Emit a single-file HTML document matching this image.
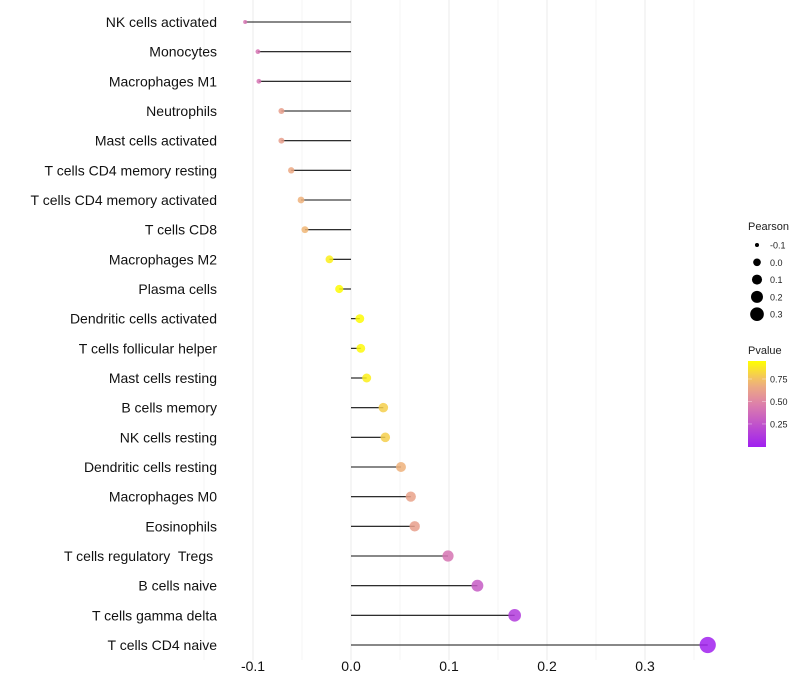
<!DOCTYPE html>
<html><head><meta charset="utf-8"><style>
body{margin:0;background:#fff;font-family:"Liberation Sans",sans-serif}
text{white-space:pre}
</style></head><body>
<svg id="c" width="800" height="700" style="display:block"></svg>
<script>
const categories=["NK cells activated","Monocytes","Macrophages M1","Neutrophils","Mast cells activated","T cells CD4 memory resting","T cells CD4 memory activated","T cells CD8","Macrophages M2","Plasma cells","Dendritic cells activated","T cells follicular helper","Mast cells resting","B cells memory","NK cells resting","Dendritic cells resting","Macrophages M0","Eosinophils","T cells regulatory  Tregs ","B cells naive","T cells gamma delta","T cells CD4 naive"];
const pearson=[-0.108,-0.095,-0.094,-0.071,-0.071,-0.061,-0.051,-0.047,-0.022,-0.012,0.009,0.010,0.016,0.033,0.035,0.051,0.061,0.065,0.099,0.129,0.167,0.364];
const pvalue=[0.42,0.42,0.42,0.62,0.62,0.66,0.7,0.72,0.9,0.94,0.94,0.93,0.9,0.8,0.8,0.7,0.63,0.62,0.42,0.3,0.14,0.01];
const xTicks=[-0.1,0,0.1,0.2,0.3];
const xTickLabels=["-0.1","0.0","0.1","0.2","0.3"];
const sizeLegend=[-0.1,0,0.1,0.2,0.3];
const pLegendTicks=[0.25,0.5,0.75];

const svg=document.getElementById('c');const NS="http://www.w3.org/2000/svg";
function mk(t,a,p){const e=document.createElementNS(NS,t);for(const k in a)e.setAttribute(k,a[k]);(p||svg).appendChild(e);return e;}
const xs=v=>351+v*980;
const ys=i=>22+i*(623/21);
function col(p){const t=Math.max(0,Math.min(1,(p-0.005)/0.945));
 const stops=[[0,[160,32,240]],[0.5,[221,128,170]],[0.75,[240,180,120]],[1,[255,255,0]]];
 for(let i=1;i<stops.length;i++){if(t<=stops[i][0]){const a=stops[i-1],b=stops[i];const f=(t-a[0])/(b[0]-a[0]);return 'rgb('+a[1].map((c,j)=>Math.round(c+(b[1][j]-c)*f)).join(',')+')';}}return 'rgb(255,255,0)';}
const rad=v=>Math.sqrt(4+(v+0.108)/0.472*62);
[-0.15,-0.05,0.05,0.15,0.25,0.35].forEach(v=>{const l=mk('line',{x1:xs(v),x2:xs(v),y1:0,y2:660,stroke:'#f5f5f5','stroke-width':1});});
xTicks.forEach((v,i)=>{const l=mk('line',{x1:xs(v),x2:xs(v),y1:0,y2:660,stroke:'#ebebeb','stroke-width':1});
 const t=mk('text',{x:xs(v),y:671,'text-anchor':'middle','font-size':14,fill:'#111'});t.textContent=xTickLabels[i];});
categories.forEach((c,i)=>{const y=ys(i);
 const t=mk('text',{x:217,y:y+5,'text-anchor':'end','font-size':14,fill:'#111'});t.textContent=c;
 const l=mk('line',{x1:xs(0),x2:xs(pearson[i]),y1:y,y2:y,stroke:'#111','stroke-width':1.1});
 const d=mk('circle',{cx:xs(pearson[i]),cy:y,r:rad(pearson[i]),fill:col(pvalue[i]),'fill-opacity':0.85});
});
const lt=mk('text',{x:748,y:230,'font-size':11,fill:'#222'});lt.textContent='Pearson';
sizeLegend.forEach((v,i)=>{const y=245+i*17.3;const c=mk('circle',{cx:757,cy:y,r:rad(v)*0.9,fill:'#000'});
 const t=mk('text',{x:770,y:y+3.5,'font-size':9,fill:'#222'});t.textContent=v.toFixed(1);});
const pt=mk('text',{x:748,y:354,'font-size':11,fill:'#222'});pt.textContent='Pvalue';
const defs=mk('defs',{});const g=mk('linearGradient',{id:'pg',x1:0,y1:1,x2:0,y2:0},defs);
for(let k=0;k<=10;k++){const p=0.005+k/10*0.945;mk('stop',{offset:k/10,'stop-color':col(p)},g);}
const bar=mk('rect',{x:748,y:361,width:18,height:86,fill:'url(#pg)'});
pLegendTicks.forEach(v=>{const y=446-(v-0.005)/0.945*85;mk('line',{x1:748,x2:752,y1:y,y2:y,stroke:'#fff','stroke-width':0.6,opacity:0.6});mk('line',{x1:762,x2:766,y1:y,y2:y,stroke:'#fff','stroke-width':0.6,opacity:0.6});
 const t=mk('text',{x:770,y:y+3.5,'font-size':9,fill:'#222'});t.textContent=v.toFixed(2);});
</script>
</body></html>
